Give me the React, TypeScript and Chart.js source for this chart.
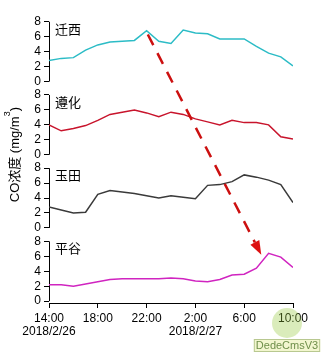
import React, { useEffect, useRef } from "react";
import { Chart, registerables } from "chart.js";

Chart.register(...registerables);

// hours elapsed since 2018/2/26 14:00
const HOURS = [0, 1, 2, 3, 4, 5, 6, 7, 8, 9, 10, 11, 12, 13, 14, 15, 16, 17, 18, 19, 20];
const QIANXI = [2.8, 3.1, 3.2, 4.2, 4.9, 5.3, 5.4, 5.5, 6.8, 5.4, 5.1, 6.9, 6.5, 6.4, 5.7, 5.7, 5.7, 4.7, 3.8, 3.3, 2.1];
const ZUNHUA = [4.0, 3.2, 3.5, 3.9, 4.6, 5.4, 5.7, 6.0, 5.6, 5.1, 5.7, 5.4, 4.8, 4.4, 4.0, 4.6, 4.3, 4.3, 4.0, 2.4, 2.1];
const YUTIAN = [2.8, 2.4, 2.0, 2.1, 4.5, 5.0, 4.8, 4.6, 4.3, 4.0, 4.3, 4.1, 3.9, 5.7, 5.8, 6.2, 7.1, 6.8, 6.4, 5.8, 3.4];
const PINGGU = [2.2, 2.2, 2.0, 2.3, 2.6, 2.9, 3.0, 3.0, 3.0, 3.0, 3.1, 3.0, 2.7, 2.6, 2.9, 3.5, 3.6, 4.4, 6.4, 5.9, 4.5];

const PANEL_NAMES = ["迁西", "遵化", "玉田", "平谷"];
const PANEL_COLORS = ["#2cbcc6", "#c8142c", "#3a3a3a", "#d024c0"];
const TICK_HOURS = [0, 4, 8, 12, 16, 20];
const TIME_TICKS = ["14:00", "18:00", "22:00", "2:00", "6:00", "10:00"];
const DATE_TICKS = ["2018/2/26", "", "", "2018/2/27", "", ""];
const Y_TICKS = [0, 2, 4, 6, 8];
const Y_TITLE_MAIN = "CO浓度 (mg/m";
const Y_TITLE_SUP = "3";
const Y_TITLE_END = ")";
// arrow annotation: from 迁西 panel to 平谷 panel (hour, value)
const ARROW_FROM = [8.1, 6.3];
const ARROW_TO = [17.4, 6.2];
const WATERMARK = "DedeCmsV3";

const FONT = "'Liberation Sans', Arial, 'Noto Sans CJK SC', sans-serif";
const CJK = "'Noto Sans CJK SC', 'Liberation Sans', sans-serif";
const AXIS_IDS = ["y1", "y2", "y3", "y4"];

function makeY(weight: number) {
  return {
    type: "linear",
    position: "left",
    stack: "panels",
    stackWeight: 1,
    weight,
    min: -0.25,
    max: 9.55,
    offset: false,
    border: { display: false },
    grid: { drawOnChartArea: false, drawTicks: true, tickLength: 5, color: "#000", lineWidth: 1 },
    ticks: {
      color: "#000",
      font: { family: FONT, size: 12 },
      padding: 3,
      autoSkip: false,
      callback: (v: number) => String(v),
    },
    afterBuildTicks: (s: any) => {
      s.ticks = Y_TICKS.map((v) => ({ value: v }));
    },
    afterFit: (s: any) => {
      s.width = 49;
    },
  };
}

const overlayPlugin = {
  id: "overlay",
  beforeDatasetsDraw(chart: any) {
    const ctx = chart.ctx;
    const left = chart.chartArea.left;
    ctx.save();
    ctx.strokeStyle = "#000";
    ctx.lineWidth = 1;
    AXIS_IDS.forEach((id) => {
      const s = chart.scales[id];
      ctx.beginPath();
      ctx.moveTo(left + 0.5, s.getPixelForValue(8));
      ctx.lineTo(left + 0.5, s.getPixelForValue(0));
      ctx.stroke();
    });
    ctx.restore();
  },
  afterDatasetsDraw(chart: any) {
    const ctx = chart.ctx;
    const area = chart.chartArea;
    const xs = chart.scales.x;
    ctx.save();
    // panel names
    ctx.fillStyle = "#000";
    ctx.font = `13px ${CJK}`;
    ctx.textAlign = "left";
    ctx.textBaseline = "middle";
    AXIS_IDS.forEach((id, i) => {
      const s = chart.scales[id];
      ctx.fillText(PANEL_NAMES[i], area.left + 6, s.getPixelForValue(8) + 7);
    });

    // y title
    ctx.save();
    ctx.translate(15, (area.top + area.bottom) / 2 - 2);
    ctx.rotate(-Math.PI / 2);
    ctx.font = `13px ${FONT}`;
    const wMain = ctx.measureText(Y_TITLE_MAIN).width;
    const wEnd = ctx.measureText(Y_TITLE_END).width;
    ctx.font = `9px ${FONT}`;
    const wSup = ctx.measureText(Y_TITLE_SUP).width;
    let px = -(wMain + wSup + wEnd) / 2;
    ctx.font = `13px ${FONT}`;
    ctx.fillText(Y_TITLE_MAIN, px, 0);
    px += wMain;
    ctx.font = `9px ${FONT}`;
    ctx.fillText(Y_TITLE_SUP, px, -7);
    px += wSup;
    ctx.font = `13px ${FONT}`;
    ctx.fillText(Y_TITLE_END, px, 0);
    ctx.restore();

    // arrow
    const x0 = xs.getPixelForValue(ARROW_FROM[0]);
    const y0 = chart.scales.y1.getPixelForValue(ARROW_FROM[1]);
    const x1 = xs.getPixelForValue(ARROW_TO[0]);
    const y1 = chart.scales.y4.getPixelForValue(ARROW_TO[1]);
    const ang = Math.atan2(y1 - y0, x1 - x0);
    const headLen = 14;
    const headW = 5;
    const bx = x1 - headLen * Math.cos(ang);
    const by = y1 - headLen * Math.sin(ang);
    ctx.strokeStyle = "#cc1010";
    ctx.fillStyle = "#dd1010";
    ctx.lineWidth = 2.5;
    ctx.setLineDash([12, 9]);
    ctx.beginPath();
    ctx.moveTo(x0, y0);
    ctx.lineTo(bx, by);
    ctx.stroke();
    ctx.setLineDash([]);
    ctx.beginPath();
    ctx.moveTo(x1, y1);
    ctx.lineTo(bx + headW * Math.sin(ang), by - headW * Math.cos(ang));
    ctx.lineTo(bx - headW * Math.sin(ang), by + headW * Math.cos(ang));
    ctx.closePath();
    ctx.fill();
    ctx.restore();
  },
  afterDraw(chart: any) {
    const ctx = chart.ctx;
    const area = chart.chartArea;
    ctx.save();
    // watermark
    const cx = area.right - 6;
    const cy = area.bottom + 20;
    ctx.fillStyle = "rgba(150, 200, 60, 0.35)";
    ctx.beginPath();
    ctx.arc(cx, cy, 15, 0, Math.PI * 2);
    ctx.fill();
    ctx.font = `11px ${FONT}`;
    const w = ctx.measureText(WATERMARK).width;
    const bxl = cx - w / 2 - 2;
    const byt = cy + 16;
    ctx.fillStyle = "#f2f6cf";
    ctx.fillRect(bxl, byt, w + 4, 13);
    ctx.strokeStyle = "#b8c890";
    ctx.lineWidth = 1;
    ctx.strokeRect(bxl + 0.5, byt + 0.5, w + 3, 12);
    ctx.fillStyle = "#6f8f4a";
    ctx.textAlign = "left";
    ctx.textBaseline = "middle";
    ctx.fillText(WATERMARK, bxl + 2, byt + 7);
    ctx.restore();
  },
};

export default function App() {
  const ref = useRef<HTMLCanvasElement | null>(null);
  useEffect(() => {
    if (!ref.current) return;
    const series = [QIANXI, ZUNHUA, YUTIAN, PINGGU];
    const chart = new Chart(ref.current, {
      type: "line",
      data: {
        datasets: series.map((vals, i) => ({
          label: PANEL_NAMES[i],
          data: HOURS.map((h, j) => ({ x: h, y: vals[j] })),
          yAxisID: AXIS_IDS[i],
          borderColor: PANEL_COLORS[i],
          backgroundColor: PANEL_COLORS[i],
          borderWidth: 1.5,
          pointRadius: 0,
          tension: 0,
          fill: false,
        })),
      },
      options: {
        responsive: false,
        animation: false,
        devicePixelRatio: 1,
        layout: { padding: { top: 4, right: 28, bottom: 0, left: 0 } },
        plugins: { legend: { display: false }, tooltip: { enabled: false } },
        scales: {
          x: {
            type: "linear",
            min: 0,
            max: 20,
            border: { display: true, color: "#000", width: 1 },
            grid: { drawOnChartArea: false, drawTicks: true, tickLength: 5, color: "#000" },
            ticks: {
              color: "#000",
              font: { family: FONT, size: 12, lineHeight: 1.1 },
              padding: 4,
              maxRotation: 0,
              autoSkip: false,
              callback: (_v: any, i: number) =>
                DATE_TICKS[i] ? [TIME_TICKS[i], DATE_TICKS[i]] : TIME_TICKS[i],
            },
            afterBuildTicks: (s: any) => {
              s.ticks = TICK_HOURS.map((v) => ({ value: v }));
            },
            afterFit: (s: any) => {
              s.height = 54;
            },
          },
          y1: makeY(4),
          y2: makeY(3),
          y3: makeY(2),
          y4: makeY(1),
        } as any,
      },
      plugins: [overlayPlugin],
    } as any);
    return () => chart.destroy();
  }, []);
  return (
    <div style={{ position: "fixed", left: 0, top: 0, width: 321, height: 357, background: "#fff" }}>
      <canvas ref={ref} width={321} height={357} style={{ display: "block" }} />
    </div>
  );
}
